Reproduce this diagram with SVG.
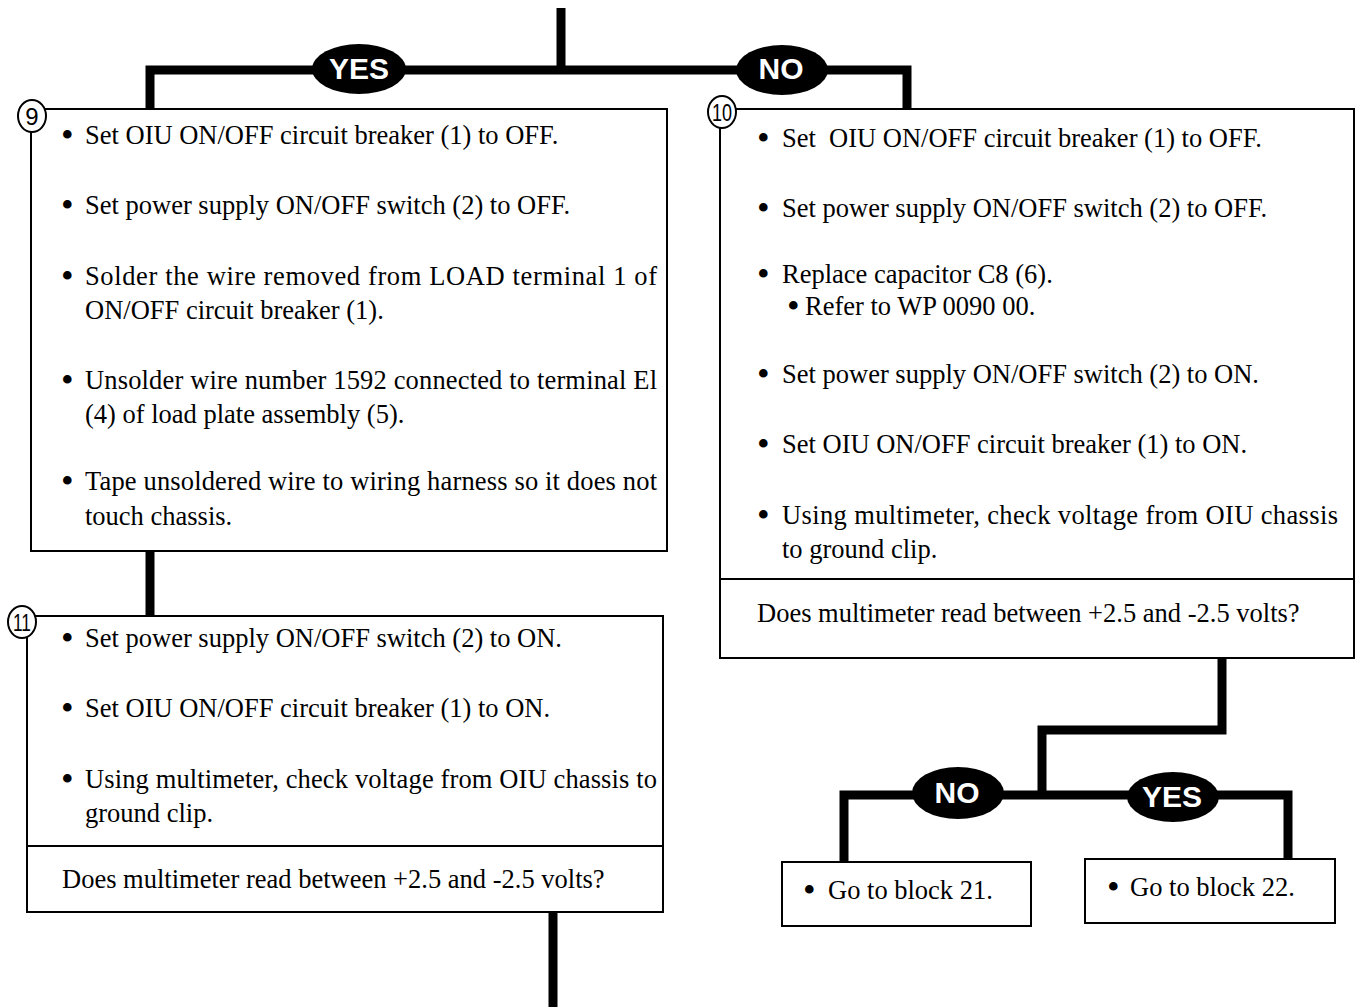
<svg xmlns="http://www.w3.org/2000/svg" width="1355" height="1007" viewBox="0 0 1355 1007">
<style>
.bg{fill:#fff}
.box{fill:#fff;stroke:#000;stroke-width:2}
.div{stroke:#000;stroke-width:2}
.wire{fill:none;stroke:#000;stroke-width:9;stroke-linejoin:miter;stroke-linecap:butt}
.oval{fill:#000}
.lab{font-family:"Liberation Sans",Arial,sans-serif;font-weight:bold;font-size:30px;fill:#fff;text-anchor:middle}
.t{font-family:"Liberation Serif","Times New Roman",serif;font-size:26.5px;fill:#000}
.b{font-family:"Liberation Serif","Times New Roman",serif;font-size:36px;fill:#000}
.num{fill:#fff;stroke:#000;stroke-width:2}
.numt{font-family:"Liberation Sans",Arial,sans-serif;font-size:24px;fill:#000;text-anchor:middle}
</style>
<rect class="bg" x="0" y="0" width="1355" height="1007"/>
<g id="connectors">
<path class="wire" d="M561,8 V70"/>
<path class="wire" d="M150,110 V70 H907 V110"/>
<path class="wire" d="M150,550 V617"/>
<path class="wire" d="M553,911 V1007"/>
<path class="wire" d="M1222,657 V730 H1042 V795"/>
<path class="wire" d="M844,863 V795 H1288 V860"/>
<ellipse class="oval" cx="359" cy="69" rx="47" ry="25"/>
<text class="lab" x="359" y="79">YES</text>
<ellipse class="oval" cx="782" cy="70" rx="46" ry="25"/>
<text class="lab" x="781" y="79">NO</text>
<ellipse class="oval" cx="958" cy="793" rx="46" ry="26"/>
<text class="lab" x="957" y="803">NO</text>
<ellipse class="oval" cx="1173" cy="797" rx="46" ry="25"/>
<text class="lab" x="1172" y="807">YES</text>
</g>
<g id="block9">
<rect class="box" x="31" y="109" width="636" height="442"/>
<ellipse class="num" cx="32" cy="116" rx="14" ry="16"/>
<text class="numt" x="32" y="125">9</text>
<text class="b" x="61" y="147">•</text><text class="t" x="85" y="144">Set OIU ON/OFF circuit breaker (1) to OFF.</text>
<text class="b" x="61" y="217">•</text><text class="t" x="85" y="214">Set power supply ON/OFF switch (2) to OFF.</text>
<text class="b" x="61" y="288">•</text><text class="t" x="85" y="285" textLength="572" lengthAdjust="spacing">Solder the wire removed from LOAD terminal 1 of</text>
<text class="t" x="85" y="319">ON/OFF circuit breaker (1).</text>
<text class="b" x="61" y="392">•</text><text class="t" x="85" y="389" textLength="572" lengthAdjust="spacing">Unsolder wire number 1592 connected to terminal El</text>
<text class="t" x="85" y="423">(4) of load plate assembly (5).</text>
<text class="b" x="61" y="493">•</text><text class="t" x="85" y="490" textLength="572" lengthAdjust="spacing">Tape unsoldered wire to wiring harness so it does not</text>
<text class="t" x="85" y="525">touch chassis.</text>
</g>
<g id="block10">
<rect class="box" x="720" y="109" width="634" height="549"/>
<line class="div" x1="720" y1="579" x2="1354" y2="579"/>
<ellipse class="num" cx="722" cy="112" rx="14" ry="16"/>
<text class="numt" x="722" y="121" textLength="20" lengthAdjust="spacingAndGlyphs">10</text>
<text class="b" x="757" y="150">•</text><text class="t" x="782" y="147" style="white-space:pre">Set  OIU ON/OFF circuit breaker (1) to OFF.</text>
<text class="b" x="757" y="220">•</text><text class="t" x="782" y="217">Set power supply ON/OFF switch (2) to OFF.</text>
<text class="b" x="757" y="286">•</text><text class="t" x="782" y="283">Replace capacitor C8 (6).</text>
<text class="b" x="787" y="318">•</text><text class="t" x="805" y="315">Refer to WP 0090 00.</text>
<text class="b" x="757" y="386">•</text><text class="t" x="782" y="383">Set power supply ON/OFF switch (2) to ON.</text>
<text class="b" x="757" y="456">•</text><text class="t" x="782" y="453">Set OIU ON/OFF circuit breaker (1) to ON.</text>
<text class="b" x="757" y="527">•</text><text class="t" x="782" y="524" textLength="556" lengthAdjust="spacing">Using multimeter, check voltage from OIU chassis</text>
<text class="t" x="782" y="558">to ground clip.</text>
<text class="t" x="757" y="622">Does multimeter read between +2.5 and -2.5 volts?</text>
</g>
<g id="block11">
<rect class="box" x="27" y="616" width="636" height="296"/>
<line class="div" x1="27" y1="846" x2="663" y2="846"/>
<ellipse class="num" cx="22" cy="622" rx="14" ry="16"/>
<text class="numt" x="22" y="631" textLength="18" lengthAdjust="spacingAndGlyphs">11</text>
<text class="b" x="61" y="650">•</text><text class="t" x="85" y="647">Set power supply ON/OFF switch (2) to ON.</text>
<text class="b" x="61" y="720">•</text><text class="t" x="85" y="717">Set OIU ON/OFF circuit breaker (1) to ON.</text>
<text class="b" x="61" y="791">•</text><text class="t" x="85" y="788" textLength="572" lengthAdjust="spacing">Using multimeter, check voltage from OIU chassis to</text>
<text class="t" x="85" y="822">ground clip.</text>
<text class="t" x="62" y="888">Does multimeter read between +2.5 and -2.5 volts?</text>
</g>
<g id="block21">
<rect class="box" x="782" y="862" width="249" height="64"/>
<text class="b" x="803" y="902">•</text><text class="t" x="828" y="899">Go to block 21.</text>
</g>
<g id="block22">
<rect class="box" x="1085" y="859" width="250" height="64"/>
<text class="b" x="1107" y="899">•</text><text class="t" x="1130" y="896">Go to block 22.</text>
</g>
</svg>
